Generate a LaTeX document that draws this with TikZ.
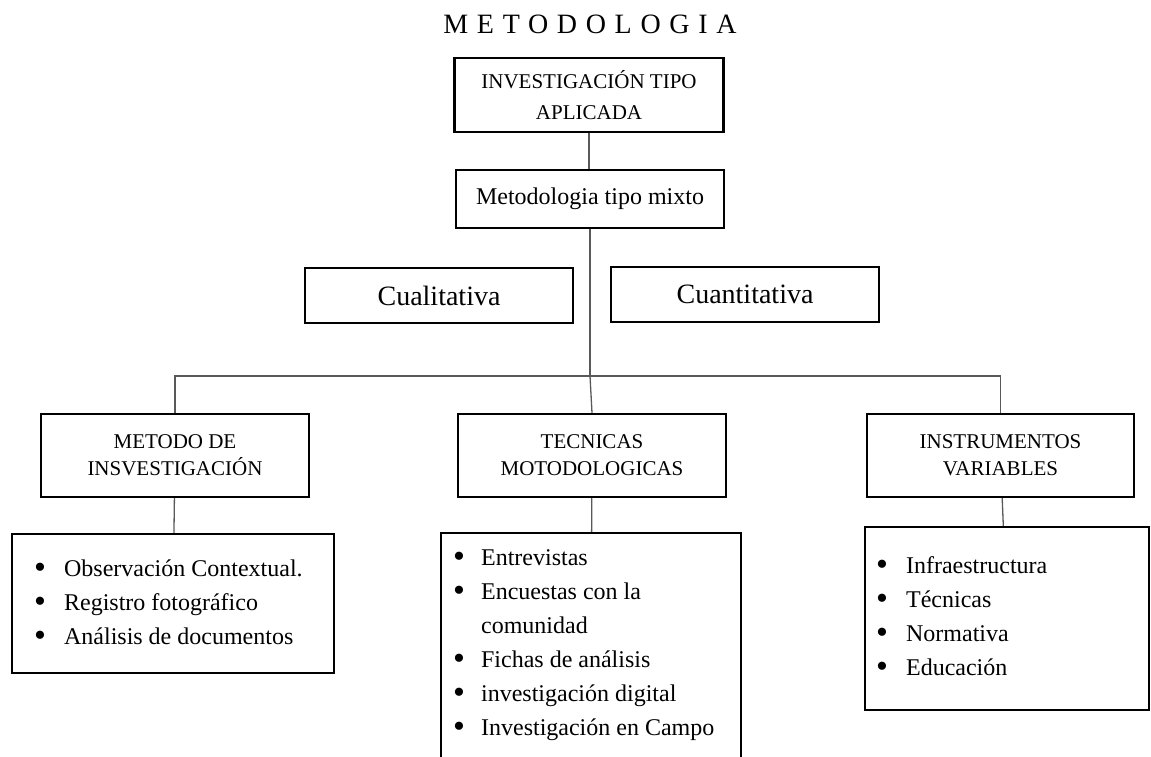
\documentclass[tikz,border=0pt]{standalone}
\usepackage{fontspec}
\setmainfont{Liberation Serif}
\usetikzlibrary{positioning}

\newcommand{\blt}{\raisebox{-1.5pt}{\fontsize{34}{34}\selectfont\textbullet}}

\begin{document}
\begin{tikzpicture}[x=1pt,y=-1pt,
  box/.style={draw,line width=2.2pt,fill=white,align=center,inner sep=2pt},
  head/.style={box,minimum width=268pt,minimum height=83pt,font=\fontsize{21}{27}\selectfont},
  lst/.style={draw,line width=2.2pt,fill=white,inner sep=0pt},
  items/.style={anchor=base west,inner sep=0pt,font=\fontsize{24}{34}\selectfont},
  con/.style={line width=1.3pt,draw=black!65}]
  \useasboundingbox (0,0) rectangle (1151,757);
  \clip (0,0) rectangle (1151,757);
  % titulo
  \node[anchor=base,inner sep=0pt,font=\fontsize{28}{30}\selectfont\addfontfeature{LetterSpace=31}] (ttl) at (590,34) {METODOLOGIA};
  \node[box,minimum width=269pt,minimum height=74pt,font=\fontsize{21}{31}\selectfont] (inv) at (589,95) {INVESTIGACIÓN TIPO\\APLICADA};
  \node[box,minimum width=268pt,minimum height=58pt,font=\fontsize{24}{28}\selectfont] (mix) at (590,199) {Metodologia tipo mixto};
  \node[box,minimum width=268pt,minimum height=55pt,font=\fontsize{28}{30}\selectfont] (cual) at (439,295.5) {Cualitativa};
  \node[box,minimum width=268pt,minimum height=55pt,font=\fontsize{28}{30}\selectfont] (cuan) at (745,294.5) {Cuantitativa};
  \coordinate (hub) at (590,376);
  % tres ramas
  \node[head] (met) at (175,455.5) {METODO DE\\INSVESTIGACIÓN};
  \node[head] (tec) at (592,455.5) {TECNICAS\\MOTODOLOGICAS};
  \node[head,minimum width=267pt] (ins) at (1000.5,455.5) {INSTRUMENTOS\\VARIABLES};
  % listas
  \node[lst,minimum width=322pt,minimum height=139pt] (lmet) at (173,603.5) {};
  \node[lst,minimum width=300pt,minimum height=260pt] (ltec) at (591,663) {};
  \node[lst,minimum width=284pt,minimum height=183pt] (lins) at (1007,618.5) {};
  \node[items] (imet) at ([shift={(23,44)}]lmet.north west) {\begin{tabular}[t]{@{}p{30pt}@{}l@{}}
    \blt & Observación Contextual.\\
    \blt & Registro fotográfico\\
    \blt & Análisis de documentos
  \end{tabular}};
  \node[items] (itec) at ([shift={(13,34)}]ltec.north west) {\begin{tabular}[t]{@{}p{28pt}@{}l@{}}
    \blt & Entrevistas\\
    \blt & Encuestas con la\\
         & comunidad\\
    \blt & Fichas de análisis\\
    \blt & investigación digital\\
    \blt & Investigación en Campo
  \end{tabular}};
  \node[items] (iins) at ([shift={(12,48)}]lins.north west) {\begin{tabular}[t]{@{}p{30pt}@{}l@{}}
    \blt & Infraestructura\\
    \blt & Técnicas\\
    \blt & Normativa\\
    \blt & Educación
  \end{tabular}};
  % conectores
  \draw[con] (inv.south) -- (inv.south |- mix.north);
  \draw[con] (mix) -- (hub);
  \draw[con] (met.north) |- (hub) -| (ins.north);
  \draw[con] (hub) -- (tec.north);
  \draw[con] (met) -- (lmet);
  \draw[con] (tec) -- (ltec);
  \draw[con] (ins) -- (lins);
\end{tikzpicture}
\end{document}
